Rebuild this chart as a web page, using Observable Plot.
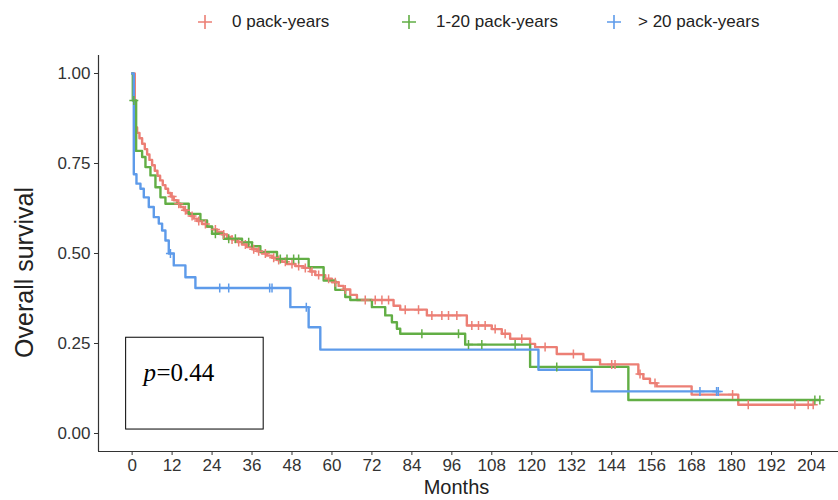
<!DOCTYPE html>
<html>
<head>
<meta charset="utf-8">
<script src="https://cdn.jsdelivr.net/npm/d3@7"></script>
<script src="https://cdn.jsdelivr.net/npm/@observablehq/plot@0.6"></script>
<style>
  body { margin: 0; background: #fff; font-family: "Liberation Sans", Arial, sans-serif; }
  #legend { position: relative; width: 838px; height: 45px; }
  .item { position: absolute; top: 11px; display: flex; align-items: center; font-size: 17px; color: #222; line-height: 22px; white-space: nowrap; }
</style>
</head>
<body>
<div id="legend"></div>
<div id="chart"></div>
<script>
// ---- Data ----
const groups = ["0 pack-years", "1-20 pack-years", "> 20 pack-years"];
const colors = ["#EC7F75", "#62AE45", "#5E9BEA"];

// 0 pack-years (red): step times (months) and survival after each step
const redTime = [0, 0.8, 1.5, 2.2, 3, 3.8, 4.5, 5.2, 6, 6.8, 7.6, 8.4, 9.2, 10, 10.8, 11.6, 12.5, 13.5, 14.5, 15.5, 16.5, 17.5, 18.5, 19.5, 21, 22.5, 24, 25.5, 27, 28.5, 30, 31.5, 33, 34.5, 36, 37.5, 39, 40.5, 42, 43.5, 45, 46.5, 49, 51.5, 53.5, 55, 58, 60, 62, 63.5, 65.5, 67.5, 78.5, 80.5, 88.5, 100.5, 108, 111, 113.5, 119.5, 121, 127.5, 135.5, 140.5, 152, 153.5, 155.5, 157.5, 168, 182];
const redSurv = [1, 0.85, 0.835, 0.82, 0.805, 0.79, 0.775, 0.76, 0.745, 0.73, 0.716, 0.703, 0.69, 0.68, 0.668, 0.658, 0.648, 0.638, 0.629, 0.62, 0.612, 0.604, 0.597, 0.59, 0.582, 0.574, 0.567, 0.56, 0.553, 0.546, 0.539, 0.532, 0.525, 0.518, 0.512, 0.506, 0.5, 0.494, 0.488, 0.482, 0.477, 0.471, 0.465, 0.46, 0.45, 0.44, 0.43, 0.42, 0.41, 0.4, 0.385, 0.371, 0.355, 0.344, 0.328, 0.3, 0.29, 0.277, 0.263, 0.249, 0.24, 0.221, 0.205, 0.192, 0.165, 0.152, 0.14, 0.131, 0.108, 0.08];
const redCensor = [12, 14, 16, 18, 20, 22, 25, 27.5, 30, 32, 34, 36.5, 38, 40, 42.5, 44, 46, 48, 50, 52, 54, 56, 59, 61, 64, 70, 73, 75, 77, 82, 86, 90, 93, 95, 97.5, 102, 104, 106, 109, 112, 117, 124, 132.5, 144, 145, 152.5, 157, 180.3, 185, 199, 203, 204.5];

// 1-20 pack-years (green)
const greenTime = [0, 0.2, 1.2, 3, 4, 5.5, 7, 8.5, 10, 17, 20.5, 22.5, 24, 27.5, 33, 36, 38.5, 43.5, 53, 57.5, 61, 64, 65.5, 72, 76, 78, 79.5, 80.5, 100, 119.5, 149];
const greenSurv = [1, 0.925, 0.785, 0.768, 0.74, 0.717, 0.684, 0.656, 0.638, 0.61, 0.592, 0.575, 0.555, 0.541, 0.531, 0.52, 0.504, 0.485, 0.462, 0.425, 0.399, 0.379, 0.371, 0.351, 0.328, 0.309, 0.291, 0.277, 0.247, 0.185, 0.093];
const greenCensor = [0.5, 25, 29, 31, 35, 44.5, 46.5, 48.5, 50, 87, 98, 101, 105, 115, 127.5, 205, 206.5];

// > 20 pack-years (blue)
const blueTime = [0, 0.5, 1.3, 2.5, 3.5, 5, 6.5, 8, 9, 10, 11, 12.5, 16, 19, 47.5, 53, 56.5, 122, 138];
const blueSurv = [1, 0.72, 0.694, 0.68, 0.656, 0.629, 0.601, 0.583, 0.564, 0.536, 0.5, 0.467, 0.434, 0.404, 0.351, 0.295, 0.233, 0.177, 0.117];
const blueCensor = [11.5, 26.3, 29, 41.3, 42, 52.3, 170.5, 175.5, 176];

const xTicks = [0, 12, 24, 36, 48, 60, 72, 84, 96, 108, 120, 132, 144, 156, 168, 180, 192, 204];
const yTicks = [0, 0.25, 0.5, 0.75, 1];
const xDomain = [-10.1, 212.1];
const yDomain = [-0.05, 1.05];

const pLabel = {italic: "p", rest: "=0.44"};
const pBox = {x1: -1.8, x2: 39.5, y1: 0.011, y2: 0.266, tx: 3.4, ty: 0.169};

// ---- Build tables ----
const series = [
  {group: groups[0], time: redTime, surv: redSurv, censor: redCensor},
  {group: groups[1], time: greenTime, surv: greenSurv, censor: greenCensor},
  {group: groups[2], time: blueTime, surv: blueSurv, censor: blueCensor}
];
function survAt(s, t) {
  let v = s.surv[0];
  for (let i = 0; i < s.time.length; i++) if (s.time[i] <= t) v = s.surv[i];
  return v;
}
const lineRows = [];
const censorRows = [];
for (const s of series) {
  s.time.forEach((t, i) => lineRows.push({group: s.group, time: t, surv: s.surv[i]}));
  const end = Math.max(...s.censor);
  lineRows.push({group: s.group, time: end, surv: survAt(s, end)});
  for (const c of s.censor) censorRows.push({group: s.group, time: c, surv: survAt(s, c)});
}

const plusSymbol = {
  draw(ctx, size) {
    const r = Math.sqrt(size / Math.PI);
    ctx.moveTo(-r, 0); ctx.lineTo(r, 0);
    ctx.moveTo(0, -r); ctx.lineTo(0, r);
  }
};

const chart = Plot.plot({
  width: 838,
  height: 455,
  marginTop: 10,
  marginBottom: 49,
  marginLeft: 98,
  marginRight: 0,
  style: {fontFamily: "'Liberation Sans', Arial, sans-serif", fontSize: "17px", background: "#fff"},
  x: {domain: xDomain},
  y: {domain: yDomain},
  color: {domain: groups, range: colors},
  marks: [
    Plot.axisY({ticks: yTicks, tickFormat: d3.format(".2f"), tickSize: 4, tickPadding: 4, label: null, color: "#333", fontSize: 17}),
    Plot.axisX({ticks: xTicks, tickFormat: d => String(d), tickSize: 4, tickPadding: 3, label: null, color: "#333", fontSize: 17}),
    Plot.ruleX([xDomain[0]], {stroke: "#333", strokeWidth: 1.2}),
    Plot.ruleY([yDomain[0]], {stroke: "#333", strokeWidth: 1.2}),
    Plot.rect([pBox], {x1: "x1", x2: "x2", y1: "y1", y2: "y2", fill: "none", stroke: "#000", strokeWidth: 1}),
    Plot.text([pBox], {x: "tx", y: "ty", text: () => pLabel.italic, textAnchor: "start", fontFamily: "'Liberation Serif', 'Times New Roman', serif", fontStyle: "italic", fontSize: 25, fill: "#000"}),
    Plot.text([pBox], {x: "tx", y: "ty", text: () => pLabel.rest, textAnchor: "start", dx: 13, fontFamily: "'Liberation Serif', 'Times New Roman', serif", fontSize: 25, fill: "#000"}),
    Plot.line(lineRows, {x: "time", y: "surv", z: "group", stroke: "group", curve: "step-after", strokeWidth: 2.4}),
    Plot.dot(censorRows, {x: "time", y: "surv", stroke: "group", symbol: plusSymbol, r: 4.5, strokeWidth: 1.5, fill: "none"}),
    Plot.text(["Months"], {frameAnchor: "bottom", textAnchor: "middle", lineAnchor: "middle", dy: 36, dx: -12, fontSize: 20, fill: "#222"}),
    Plot.text(["Overall survival"], {frameAnchor: "left", textAnchor: "middle", lineAnchor: "middle", rotate: -90, dx: -74, dy: 19, fontSize: 25, fill: "#222"})
  ]
});
document.getElementById("chart").appendChild(chart);

// ---- Legend ----
const legendPos = [{plus: 205, text: 232}, {plus: 409, text: 436}, {plus: 614, text: 638}];
const legend = document.getElementById("legend");
groups.forEach((g, i) => {
  const ns = "http://www.w3.org/2000/svg";
  const svg = document.createElementNS(ns, "svg");
  svg.setAttribute("width", 18); svg.setAttribute("height", 18);
  svg.style.position = "absolute";
  svg.style.left = (legendPos[i].plus - 9) + "px";
  svg.style.top = "13px";
  const p = document.createElementNS(ns, "path");
  p.setAttribute("d", "M2,9H16M9,2V16");
  p.setAttribute("stroke", colors[i]); p.setAttribute("stroke-width", 1.6); p.setAttribute("fill", "none");
  svg.appendChild(p);
  legend.appendChild(svg);
  const span = document.createElement("div");
  span.className = "item";
  span.style.left = legendPos[i].text + "px";
  span.textContent = g;
  legend.appendChild(span);
});
</script>
</body>
</html>
